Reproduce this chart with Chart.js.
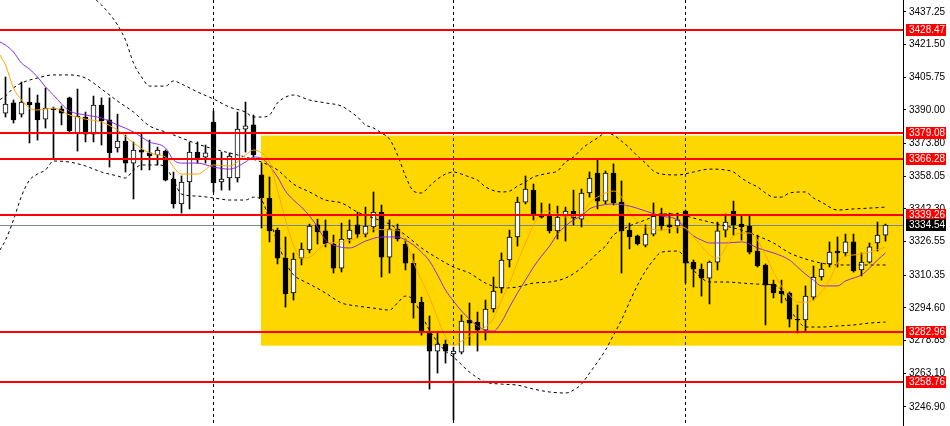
<!DOCTYPE html>
<html>
<head>
<meta charset="UTF-8">
<title>XAUUSD H1</title>
<style>
  html, body { margin: 0; padding: 0; background: #fff; }
  #wrap { width: 950px; height: 426px; position: relative; }
</style>
</head>
<body>
<div id="wrap"><canvas id="chart"></canvas></div>
<script src="https://cdn.jsdelivr.net/npm/chart.js@4"></script>
<script>
// candles, oldest first (index = bar number)
const opens = [3388.5,3393.4,3388.0,3393.8,3393.4,3385.6,3390.5,3390.5,3395.8,3378.9,
  3386.6,3378.4,3392.4,3385.2,3371.7,3375.0,3364.4,3370.7,3369.3,3368.3,
  3370.2,3356.7,3344.7,3355.3,3369.7,3367.3,3384.2,3355.3,3357.2,3357.2,
  3380.8,3382.8,3358.7,3347.6,3332.1,3318.6,3301.8,3318.6,3322.5,3334.6,
  3331.7,3325.4,3313.8,3327.8,3334.6,3330.2,3333.6,3340.8,3319.1,3332.6,
  3325.4,3316.2,3297.4,3282.5,3273.8,3277.2,3272.4,3273.3,3288.8,3287.8,
  3283.9,3294.1,3304.2,3317.7,3328.8,3345.6,3351.4,3339.4,3338.9,3331.7,
  3338.9,3341.3,3337.4,3350.0,3359.6,3346.1,3359.6,3345.6,3332.1,3329.3,
  3324.9,3330.2,3339.9,3334.6,3334.1,3341.3,3316.7,3313.3,3309.0,3316.7,
  3332.1,3341.3,3335.0,3334.1,3322.0,3315.3,3306.1,3302.7,3301.8,3289.2,
  3288.8,3299.8,3309.5,3315.8,3322.0,3321.1,3326.4,3312.9,3316.7,3325.9,
  3329.7];
const highs = [3405.9,3394.8,3403.5,3400.6,3397.2,3400.6,3391.4,3391.9,3396.2,3400.1,
  3389.0,3396.7,3395.8,3395.8,3388.0,3377.9,3374.6,3378.9,3375.5,3372.1,
  3370.7,3360.1,3358.2,3374.6,3374.6,3373.1,3389.5,3369.7,3369.3,3389.0,
  3393.8,3387.6,3364.4,3357.7,3333.1,3328.8,3321.1,3325.9,3335.0,3337.4,
  3337.0,3329.7,3335.5,3337.0,3340.8,3343.2,3350.5,3344.2,3337.0,3335.0,
  3327.8,3320.6,3299.8,3290.7,3282.5,3279.1,3275.7,3291.2,3297.0,3292.6,
  3298.4,3309.5,3321.1,3332.1,3348.0,3358.2,3354.3,3345.2,3344.7,3343.7,
  3343.2,3351.4,3351.9,3360.1,3365.9,3360.6,3364.0,3355.8,3335.5,3329.7,
  3334.6,3345.2,3342.7,3340.3,3340.3,3341.8,3317.7,3315.8,3317.2,3336.0,
  3339.9,3346.1,3339.4,3338.9,3329.7,3315.8,3308.0,3308.0,3302.3,3296.0,
  3305.2,3314.8,3316.2,3326.4,3328.8,3330.2,3330.2,3321.1,3325.9,3336.0,
  3335.0];
const lows = [3386.6,3383.7,3386.6,3374.1,3375.5,3381.3,3366.8,3382.8,3378.9,3370.2,
  3374.6,3374.6,3373.1,3362.5,3369.7,3360.1,3347.1,3361.1,3361.1,3363.5,
  3355.8,3342.7,3340.3,3342.3,3364.4,3364.4,3350.5,3351.4,3351.4,3355.3,
  3369.7,3367.3,3333.1,3326.4,3315.8,3295.0,3298.4,3315.3,3321.1,3325.4,
  3324.0,3311.4,3311.9,3325.9,3328.3,3328.8,3331.2,3309.5,3311.4,3326.8,
  3312.9,3289.7,3281.5,3255.5,3263.2,3268.0,3240.6,3272.4,3276.7,3273.8,
  3279.1,3292.6,3301.8,3314.3,3324.4,3344.7,3337.0,3337.9,3330.7,3327.8,
  3326.8,3334.6,3333.6,3348.0,3342.3,3344.7,3344.2,3311.4,3323.0,3324.9,
  3324.0,3329.3,3332.1,3330.7,3330.7,3306.6,3304.7,3300.3,3296.5,3312.9,
  3328.8,3329.7,3327.3,3320.6,3314.3,3286.4,3299.4,3297.0,3285.4,3282.5,
  3283.5,3298.4,3308.0,3314.3,3314.3,3319.6,3311.9,3310.0,3316.2,3322.0,
  3326.8];
const closes = [3392.9,3385.2,3393.8,3392.4,3385.2,3390.9,3390.2,3388.5,3379.9,3387.1,
  3378.4,3392.4,3384.7,3369.3,3375.0,3364.4,3370.7,3369.7,3367.8,3370.7,
  3356.2,3344.7,3355.3,3369.7,3365.9,3369.3,3354.8,3356.7,3367.8,3380.8,
  3382.3,3368.3,3347.6,3331.7,3318.6,3301.3,3318.2,3323.0,3334.1,3331.2,
  3325.4,3313.8,3327.8,3332.1,3330.2,3334.1,3340.8,3319.1,3332.6,3327.8,
  3316.2,3297.0,3282.5,3273.8,3277.2,3273.8,3273.8,3288.3,3287.3,3283.9,
  3294.1,3302.7,3317.7,3328.8,3345.6,3351.9,3339.4,3338.4,3331.7,3338.4,
  3341.3,3337.9,3350.0,3357.2,3346.1,3359.6,3345.2,3331.7,3328.8,3325.4,
  3330.2,3338.9,3334.1,3333.6,3337.0,3316.2,3313.3,3309.0,3316.7,3331.7,
  3336.0,3334.6,3333.6,3321.5,3314.8,3305.6,3301.8,3301.5,3289.2,3288.8,
  3300.3,3309.5,3313.3,3321.5,3321.1,3326.4,3312.4,3316.7,3324.0,3329.7,
  3334.54];

// indicator lines: [bar, price]
const maFast = [[-0.7,3416.5],[0,3411.7],[1,3400.6],[2,3394.8],[3,3390.9],[4,3390.0],[6,3390.9],[8,3387.6],[10,3385.6],[12,3384.2],[14,3380.3],[16,3374.1],[18,3369.3],[20,3367.3],[22,3359.1],[24,3359.1],[26,3363.5],[28,3363.0],[30,3368.3],[31,3370.7],[32,3369.3],[33,3364.9],[34,3351.4],[35,3337.0],[36,3324.9],[37,3318.6],[38,3319.1],[40,3325.4],[42,3326.4],[44,3328.3],[46,3332.6],[48,3332.1],[49,3332.1],[50,3327.3],[51,3316.7],[52,3308.0],[53,3299.8],[54,3289.7],[55,3280.6],[56,3276.7],[57,3278.6],[58,3281.0],[60,3285.4],[61,3289.7],[62,3298.4],[63,3306.6],[64,3316.7],[65,3325.9],[66,3334.6],[67,3340.3],[68,3341.3],[70,3338.4],[72,3339.9],[73,3345.2],[74,3348.0],[76,3350.9],[77,3348.0],[78,3340.8],[79,3336.5],[80,3333.6],[82,3332.1],[84,3333.6],[85,3333.1],[86,3328.8],[87,3324.4],[88,3320.1],[89,3318.6],[90,3323.5],[91,3329.3],[92,3330.7],[93,3330.7],[94,3327.3],[95,3320.1],[96,3311.9],[97,3305.2],[98,3300.8],[99,3297.4],[100,3297.4],[101,3298.4],[102,3302.3],[103,3308.0],[104,3316.2],[105,3319.6],[106,3320.1],[108,3321.5],[110,3324.0]];
const maSlow = [[-0.7,3422.8],[0,3421.3],[1,3417.9],[2,3412.6],[3,3409.7],[4,3405.9],[5,3401.1],[6,3397.2],[7,3392.9],[8,3389.5],[10,3387.6],[12,3386.1],[14,3382.8],[16,3379.4],[18,3374.6],[20,3371.7],[21,3365.9],[22,3364.4],[24,3364.4],[26,3362.5],[28,3361.5],[30,3364.9],[31,3367.3],[32,3366.8],[33,3363.0],[34,3357.7],[35,3350.9],[36,3346.6],[37,3343.2],[38,3338.9],[39,3333.6],[40,3327.3],[41,3324.9],[43,3323.5],[45,3326.8],[47,3328.8],[49,3328.8],[50,3327.3],[51,3324.9],[52,3321.5],[53,3317.2],[54,3310.5],[55,3303.2],[56,3297.9],[57,3293.1],[58,3289.2],[59,3285.9],[60,3283.9],[61,3283.5],[62,3287.8],[63,3295.0],[64,3301.8],[65,3308.0],[66,3314.3],[67,3319.6],[68,3324.4],[69,3330.2],[70,3334.1],[71,3337.0],[72,3338.9],[73,3342.3],[74,3343.7],[76,3344.7],[78,3343.7],[80,3341.3],[82,3338.9],[84,3337.0],[85,3332.6],[86,3329.3],[87,3327.3],[88,3325.9],[90,3325.9],[92,3326.4],[93,3325.4],[94,3323.5],[96,3321.1],[98,3317.7],[99,3314.3],[100,3310.9],[101,3308.0],[102,3305.2],[104,3305.2],[105,3307.6],[106,3309.0],[107,3310.5],[108,3313.8],[109,3317.7],[110,3321.1]];
const bandUpper = [[8,3462.3],[10,3450.2],[11,3444.4],[12,3440.6],[13,3436.3],[14,3431.0],[15,3423.7],[16,3412.6],[17,3405.9],[18,3401.5],[20,3401.5],[21,3404.0],[22,3402.5],[24,3398.7],[26,3395.3],[28,3391.4],[30,3389.0],[31,3386.6],[32,3386.6],[33,3387.6],[34,3393.4],[35,3396.2],[36,3397.2],[38,3394.8],[40,3393.4],[42,3391.9],[43,3389.5],[44,3386.6],[45,3382.8],[46,3381.3],[47,3378.9],[48,3376.0],[49,3368.3],[50,3358.2],[51,3350.9],[52,3350.0],[53,3353.3],[54,3356.7],[55,3359.1],[56,3360.1],[57,3359.1],[58,3357.7],[59,3356.2],[60,3352.9],[62,3350.5],[63,3350.9],[64,3353.3],[65,3355.3],[66,3357.7],[68,3359.6],[69,3360.6],[70,3364.9],[71,3367.3],[72,3371.2],[73,3374.1],[74,3376.5],[75,3378.9],[76,3377.9],[77,3375.0],[78,3371.7],[79,3367.8],[80,3364.4],[81,3360.6],[82,3359.1],[84,3358.7],[86,3360.1],[88,3361.5],[90,3361.1],[91,3360.1],[92,3357.2],[93,3354.8],[94,3352.9],[95,3350.0],[96,3348.0],[97,3348.0],[98,3350.0],[100,3350.5],[101,3347.6],[102,3345.6],[104,3341.8],[106,3342.3],[108,3342.7],[110,3343.2]];
const bandMiddle = [[-0.7,3395.0],[0,3396.7],[1,3400.6],[2,3403.0],[4,3405.4],[6,3406.9],[8,3406.9],[10,3405.4],[12,3400.1],[14,3394.3],[16,3389.0],[18,3382.3],[20,3379.4],[22,3376.5],[24,3373.6],[26,3371.2],[28,3369.3],[30,3367.3],[32,3364.9],[34,3361.1],[35,3357.7],[36,3354.3],[38,3350.5],[40,3346.6],[42,3345.2],[44,3340.8],[46,3337.9],[48,3335.0],[50,3329.7],[52,3323.5],[54,3318.6],[56,3314.3],[58,3311.4],[60,3306.6],[62,3304.2],[64,3304.7],[66,3306.6],[68,3307.1],[70,3309.0],[72,3313.8],[73,3317.2],[74,3321.1],[75,3324.4],[76,3329.7],[77,3332.1],[78,3334.1],[80,3337.0],[82,3339.9],[84,3339.9],[86,3337.9],[88,3336.0],[90,3334.1],[92,3332.1],[94,3329.3],[96,3325.9],[98,3321.1],[100,3318.2],[102,3316.2],[104,3315.3],[110,3315.3]];
const bandLower = [[-0.7,3322.5],[0,3327.3],[1,3337.0],[2,3348.5],[3,3356.2],[4,3359.1],[5,3361.1],[6,3365.4],[8,3364.9],[10,3363.0],[12,3360.1],[14,3358.2],[15,3357.2],[16,3361.1],[17,3363.5],[19,3363.5],[20,3362.5],[21,3356.2],[22,3349.5],[24,3348.5],[26,3347.6],[28,3346.6],[30,3346.6],[31,3348.0],[32,3346.6],[33,3337.0],[34,3326.4],[35,3316.7],[36,3310.5],[37,3308.0],[38,3306.1],[40,3301.8],[42,3297.0],[44,3295.5],[46,3294.5],[48,3293.6],[49,3297.0],[50,3300.3],[51,3298.4],[52,3291.2],[53,3283.9],[54,3278.2],[55,3273.8],[56,3270.9],[58,3263.7],[60,3258.9],[62,3257.9],[64,3257.4],[66,3255.5],[68,3254.1],[70,3253.6],[71,3255.0],[72,3257.9],[73,3263.2],[74,3268.5],[75,3274.3],[76,3281.5],[77,3288.8],[78,3297.4],[79,3305.6],[80,3312.4],[81,3317.7],[82,3321.5],[84,3322.0],[85,3318.6],[86,3312.9],[87,3309.0],[88,3307.1],[90,3307.1],[92,3306.6],[94,3306.1],[96,3305.6],[97,3303.2],[98,3294.5],[99,3288.8],[100,3285.4],[102,3285.4],[104,3285.9],[106,3286.4],[108,3287.3],[110,3287.8]];

const yTicks = [3437.25, 3421.50, 3405.75, 3390.00, 3373.80, 3358.05, 3342.30, 3326.55, 3310.35, 3294.60, 3278.85, 3263.10, 3246.90];
const levels = [3428.47, 3379.08, 3366.28, 3339.26, 3282.96, 3258.76];
const lastPrice = 3334.54;
const zoneFrom = 32;
const zoneTop = 3377.7;
const zoneBottom = 3276.4;
const separators = [26, 56, 85];

const pts = arr => arr.map(p => ({ x: p[0], y: p[1] }));
const labelFont = '10px "Liberation Sans", Arial, sans-serif';

const overlay = {
  id: 'overlay',
  beforeDraw(chart) {
    const c = chart.ctx;
    c.save();
    c.fillStyle = '#fff';
    c.fillRect(0, 0, chart.width, chart.height);
    c.restore();
  },
  beforeDatasetsDraw(chart) {
    const c = chart.ctx, a = chart.chartArea;
    const x = chart.scales.x, y = chart.scales.y;
    c.save();
    // yellow zone
    const zl = x.getPixelForValue(zoneFrom) - 0.5;
    c.fillStyle = '#FFD700';
    c.fillRect(zl, y.getPixelForValue(zoneTop), a.right - zl, y.getPixelForValue(zoneBottom) - y.getPixelForValue(zoneTop));
    // period separators (xor-like: black on white, blue on yellow)
    c.globalCompositeOperation = 'difference';
    c.strokeStyle = '#fff';
    c.lineWidth = 1;
    c.setLineDash([3, 3]);
    separators.forEach(i => {
      const px = x.getPixelForValue(i);
      c.beginPath();
      c.moveTo(px, a.top);
      c.lineTo(px, a.bottom);
      c.stroke();
    });
    c.globalCompositeOperation = 'source-over';
    c.setLineDash([]);
    // last price line
    const ly = Math.round(y.getPixelForValue(lastPrice)) + 0.5;
    c.strokeStyle = '#7d8591';
    c.beginPath();
    c.moveTo(a.left, ly);
    c.lineTo(a.right, ly);
    c.stroke();
    c.restore();
  },
  afterDatasetsDraw(chart) {
    const c = chart.ctx, a = chart.chartArea, y = chart.scales.y;
    c.save();
    c.strokeStyle = '#ff0000';
    c.lineWidth = 2;
    levels.forEach(v => {
      const py = Math.round(y.getPixelForValue(v));
      c.beginPath();
      c.moveTo(a.left, py);
      c.lineTo(a.right, py);
      c.stroke();
    });
    c.restore();
  },
  afterDraw(chart) {
    const c = chart.ctx, a = chart.chartArea, y = chart.scales.y;
    c.save();
    c.font = labelFont;
    c.textBaseline = 'middle';
    const box = (v, bg) => {
      const py = Math.round(y.getPixelForValue(v));
      c.fillStyle = bg;
      c.fillRect(a.right + 3, py - 6, 40, 12);
      c.fillStyle = '#fff';
      c.fillText(v.toFixed(2), a.right + 6, py + 0.5);
    };
    levels.forEach(v => box(v, '#ff0000'));
    box(lastPrice, '#000');
    c.restore();
  }
};

new Chart(document.getElementById('chart'), {
  type: 'bar',
  data: {
    datasets: [
      { type: 'line', data: pts(maFast), borderColor: '#FFA500', borderWidth: 1, pointRadius: 0, cubicInterpolationMode: 'monotone', order: 0 },
      { type: 'line', data: pts(maSlow), borderColor: '#8A2BE2', borderWidth: 1, pointRadius: 0, cubicInterpolationMode: 'monotone', order: 0 },
      { type: 'line', data: pts(bandUpper), borderColor: '#000', borderWidth: 1, borderDash: [3, 3], pointRadius: 0, cubicInterpolationMode: 'monotone', order: 1 },
      { type: 'line', data: pts(bandMiddle), borderColor: '#000', borderWidth: 1, borderDash: [3, 3], pointRadius: 0, cubicInterpolationMode: 'monotone', order: 1 },
      { type: 'line', data: pts(bandLower), borderColor: '#000', borderWidth: 1, borderDash: [3, 3], pointRadius: 0, cubicInterpolationMode: 'monotone', order: 1 },
      {
        data: opens.map((o, i) => ({ x: i, y: [o, closes[i]] })),
        backgroundColor: opens.map((o, i) => closes[i] >= o ? '#fff' : '#000'),
        borderColor: '#000', borderWidth: 1, borderSkipped: false,
        barThickness: 5, minBarLength: 1, grouped: false, order: 2
      },
      {
        data: highs.map((h, i) => ({ x: i, y: [lows[i], h] })),
        backgroundColor: '#000', borderWidth: 0,
        barThickness: 1, grouped: false, order: 3
      }
    ]
  },
  options: {
    responsive: true,
    maintainAspectRatio: false,
    animation: false,
    layout: { padding: 0 },
    plugins: { legend: { display: false }, tooltip: { enabled: false } },
    scales: {
      x: { type: 'linear', min: -0.6875, max: 112.1875, offset: false, display: false },
      y: {
        position: 'right',
        min: 3237.7, max: 3443.0,
        beginAtZero: false,
        afterBuildTicks: s => { s.ticks = yTicks.map(v => ({ value: v })); },
        afterFit: s => { s.width = 47; s.paddingTop = 0; s.paddingBottom = 0; },
        ticks: {
          autoSkip: false, padding: 3, color: '#000',
          font: { family: '"Liberation Sans", Arial, sans-serif', size: 10 },
          callback: v => Number(v).toFixed(2)
        },
        grid: { drawOnChartArea: false, tickLength: 3, color: '#000' },
        border: { color: '#000' }
      }
    }
  },
  plugins: [overlay]
});
</script>
</body>
</html>
